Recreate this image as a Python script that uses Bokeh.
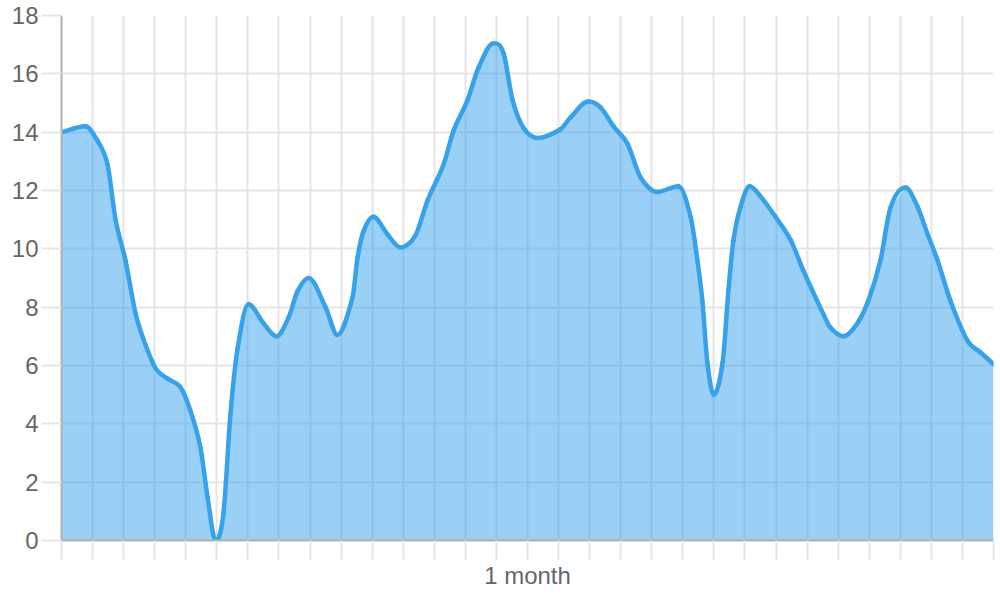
from bokeh.plotting import figure
from bokeh.models import Range1d, FixedTicker, ColumnDataSource
from bokeh.embed import file_html
from bokeh.resources import INLINE

# x positions in days (0..30)
days = [0.00, 0.77, 1.16, 1.48, 1.74, 2.06, 2.38, 2.64, 3.03, 3.41, 3.83, 4.15,
        4.47, 4.70, 4.96, 5.21, 5.44, 5.67, 6.02, 6.50, 6.92, 7.31, 7.60, 7.95,
        8.50, 8.88, 9.37, 9.53, 9.72, 10.04, 10.49, 10.91, 11.39, 11.78, 12.30,
        12.62, 13.07, 13.42, 13.91, 14.23, 14.52, 14.87, 15.32, 16.06, 16.38,
        16.96, 17.35, 17.77, 18.22, 18.64, 19.18, 19.86, 20.25, 20.47, 20.63,
        20.79, 20.99, 21.28, 21.47, 21.63, 21.86, 22.15, 22.50, 22.98, 23.47,
        23.88, 24.33, 24.53, 24.75, 25.17, 25.62, 25.98, 26.36, 26.68, 27.17,
        27.55, 27.88, 28.20, 28.62, 29.16, 29.58, 30.00]
values = [14.0, 14.2, 13.7, 12.9, 11.0, 9.6, 7.8, 6.9, 5.9, 5.55, 5.25, 4.45,
          3.2, 1.5, 0.0, 0.9, 4.35, 6.6, 8.1, 7.45, 7.0, 7.65, 8.55, 9.0,
          8.0, 7.05, 8.35, 9.7, 10.6, 11.1, 10.5, 10.05, 10.45, 11.65, 12.9,
          14.05, 15.1, 16.2, 17.05, 16.7, 15.1, 14.15, 13.8, 14.1, 14.5,
          15.05, 14.85, 14.2, 13.6, 12.45, 11.95, 12.15, 11.1, 9.6, 8.2,
          6.1, 5.0, 6.1, 8.6, 10.3, 11.45, 12.15, 11.8, 11.1, 10.3,
          9.25, 8.2, 7.75, 7.3, 7.0, 7.45, 8.25, 9.6, 11.4, 12.1,
          11.45, 10.5, 9.6, 8.2, 6.85, 6.45, 6.05]

y_ticks = [0, 2, 4, 6, 8, 10, 12, 14, 16, 18]
x_ticks = list(range(31))
x_tick_labels = {15: "1 month"}

LINE = "#36a2eb"
GRID = "#e5e5e5"
AXIS = "#b0b0b0"
TEXT = "#666666"
FONT = "Liberation Sans"


def smooth_slopes(x, y):
    """Tangents for drawing a smooth, non-overshooting curve through the points."""
    n = len(x)
    d = [(y[i + 1] - y[i]) / (x[i + 1] - x[i]) for i in range(n - 1)]
    m = [0.0] * n
    m[0] = d[0]
    m[-1] = d[-1]
    for k in range(1, n - 1):
        if d[k - 1] * d[k] <= 0:
            m[k] = 0.0
        else:
            c = (y[k + 1] - y[k - 1]) / (x[k + 1] - x[k - 1])
            lim = 3 * min(abs(d[k - 1]), abs(d[k]))
            if abs(c) > lim:
                c = lim if c > 0 else -lim
            m[k] = c
    return m


m = smooth_slopes(days, values)
seg = dict(x0=[], y0=[], x1=[], y1=[], cx0=[], cy0=[], cx1=[], cy1=[])
for i in range(len(days) - 1):
    h = days[i + 1] - days[i]
    seg["x0"].append(days[i]); seg["y0"].append(values[i])
    seg["x1"].append(days[i + 1]); seg["y1"].append(values[i + 1])
    seg["cx0"].append(days[i] + h / 3); seg["cy0"].append(values[i] + m[i] * h / 3)
    seg["cx1"].append(days[i + 1] - h / 3); seg["cy1"].append(values[i + 1] - m[i + 1] * h / 3)

p = figure(width=1000, height=600, x_range=Range1d(0, 30), y_range=Range1d(0, 18),
           output_backend="svg", toolbar_location=None,
           min_border_left=61, min_border_right=7, min_border_top=15, min_border_bottom=60)
p.outline_line_color = None
p.background_fill_color = "white"

p.varea(x=days, y1=[0] * len(days), y2=values, fill_color=LINE, fill_alpha=0.5)
p.bezier(source=ColumnDataSource(seg), x0="x0", y0="y0", x1="x1", y1="y1",
         cx0="cx0", cy0="cy0", cx1="cx1", cy1="cy1",
         line_color=LINE, line_width=4.5, line_cap="round")

# axes
p.xaxis.ticker = FixedTicker(ticks=x_ticks)
p.xaxis.major_label_overrides = {t: x_tick_labels.get(t, "") for t in x_ticks}
p.yaxis.ticker = FixedTicker(ticks=y_ticks)
for ax in (p.xaxis, p.yaxis):
    ax.axis_line_color = AXIS
    ax.axis_line_width = 2
    ax.major_tick_line_color = GRID
    ax.major_tick_line_width = 2
    ax.major_tick_in = 0
    ax.minor_tick_line_color = None
    ax.major_label_text_font = FONT
    ax.major_label_text_font_size = "24px"
    ax.major_label_text_color = TEXT
p.xaxis.major_tick_out = 19
p.xaxis.major_label_standoff = 2
p.yaxis.major_tick_out = 20
p.yaxis.major_label_standoff = 3

p.xgrid.ticker = FixedTicker(ticks=x_ticks)
p.ygrid.ticker = FixedTicker(ticks=y_ticks)
for g in (p.xgrid, p.ygrid):
    g.grid_line_color = GRID
    g.grid_line_width = 2

open("out.html", "w").write(file_html(p, INLINE))
